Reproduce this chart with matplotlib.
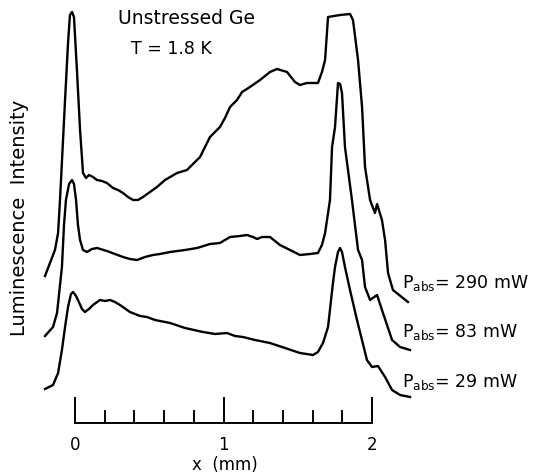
import matplotlib
matplotlib.use("Agg")
import matplotlib.pyplot as plt
from matplotlib.ticker import FixedLocator

# position along the sample (mm) and luminescence intensity (arb. units)
x_290 = [-0.202, -0.135, -0.114, -0.101, -0.067, -0.047, -0.034, -0.020, -0.007, 0.013,
         0.034, 0.054, 0.074, 0.094, 0.121, 0.148, 0.182, 0.215, 0.256, 0.290,
         0.323, 0.357, 0.391, 0.424, 0.458, 0.505, 0.552, 0.606, 0.687, 0.754,
         0.842, 0.909, 0.976, 1.010, 1.044, 1.091, 1.125, 1.178,
         1.246, 1.313, 1.360, 1.428, 1.481, 1.515, 1.562, 1.636, 1.663, 1.684,
         1.704, 1.785, 1.852, 1.872, 1.906, 1.933, 1.953, 1.987, 2.020, 2.034,
         2.067, 2.088, 2.108, 2.141, 2.242]
y_290 = [1.47, 1.73, 1.90, 2.23, 3.23, 3.80, 4.08, 4.11, 4.06, 3.53,
         2.93, 2.50, 2.45, 2.48, 2.46, 2.43, 2.42, 2.40, 2.35, 2.33,
         2.30, 2.26, 2.23, 2.23, 2.26, 2.31, 2.36, 2.43, 2.50, 2.53,
         2.66, 2.86, 2.96, 3.05, 3.16, 3.23, 3.31, 3.36,
         3.43, 3.51, 3.54, 3.51, 3.41, 3.38, 3.40, 3.40, 3.51, 3.63,
         4.06, 4.08, 4.09, 4.03, 3.63, 3.16, 2.56, 2.23, 2.10, 2.19,
         2.03, 1.83, 1.50, 1.33, 1.21]

x_83 = [-0.202, -0.148, -0.121, -0.088, -0.074, -0.061, -0.040, -0.020, -0.007, 0.007,
        0.020, 0.034, 0.054, 0.081, 0.114, 0.148, 0.215, 0.269, 0.323, 0.370,
        0.418, 0.471, 0.525, 0.572, 0.640, 0.741, 0.822, 0.909, 0.976, 1.044,
        1.111, 1.158, 1.199, 1.226, 1.259, 1.313, 1.380, 1.448, 1.515, 1.582,
        1.636, 1.663, 1.684, 1.717, 1.731, 1.751, 1.771, 1.785, 1.798, 1.818,
        1.865, 1.906, 1.933, 1.953, 1.987, 2.034, 2.074, 2.135, 2.189, 2.256]
y_83 = [0.87, 0.96, 1.10, 1.56, 1.98, 2.23, 2.39, 2.43, 2.39, 2.23,
        1.98, 1.83, 1.73, 1.71, 1.74, 1.75, 1.72, 1.69, 1.66, 1.64,
        1.63, 1.66, 1.68, 1.69, 1.71, 1.73, 1.75, 1.79, 1.80, 1.86,
        1.87, 1.88, 1.86, 1.84, 1.86, 1.86, 1.78, 1.73, 1.68, 1.69,
        1.70, 1.78, 1.90, 2.23, 2.76, 2.96, 3.40, 3.39, 3.30, 2.76,
        2.23, 1.73, 1.63, 1.36, 1.23, 1.28, 1.10, 0.83, 0.76, 0.73]

x_29 = [-0.202, -0.148, -0.114, -0.088, -0.067, -0.047, -0.027, -0.013, 0.007, 0.020,
        0.047, 0.067, 0.094, 0.121, 0.168, 0.202, 0.236, 0.269, 0.303, 0.370,
        0.438, 0.485, 0.539, 0.640, 0.741, 0.862, 0.943, 1.024, 1.077, 1.131,
        1.212, 1.313, 1.414, 1.515, 1.603, 1.636, 1.670, 1.704, 1.737, 1.751,
        1.771, 1.785, 1.798, 1.818, 1.852, 1.899, 1.966, 2.000, 2.040, 2.088,
        2.135, 2.189, 2.256]
y_29 = [0.34, 0.38, 0.50, 0.73, 0.96, 1.16, 1.29, 1.31, 1.27, 1.23,
        1.14, 1.11, 1.14, 1.18, 1.23, 1.22, 1.23, 1.21, 1.18, 1.11,
        1.07, 1.06, 1.03, 1.00, 0.95, 0.91, 0.89, 0.90, 0.87, 0.86,
        0.83, 0.80, 0.75, 0.70, 0.68, 0.71, 0.80, 0.96, 1.40, 1.56,
        1.71, 1.75, 1.71, 1.56, 1.33, 1.03, 0.63, 0.56, 0.57, 0.46,
        0.33, 0.28, 0.26]

labels = [r"P$_\mathregular{abs}$= 290 mW", r"P$_\mathregular{abs}$= 83 mW",
          r"P$_\mathregular{abs}$= 29 mW"]
label_y = [1.40, 0.91, 0.41]

major_ticks = [0, 1, 2]
minor_ticks = [0.2, 0.4, 0.6, 0.8, 1.2, 1.4, 1.6, 1.8]

fig = plt.figure(figsize=(5.36, 4.73), dpi=100)
ax = fig.add_axes([0, 0, 1, 1])

for xs, ys in [(x_290, y_290), (x_83, y_83), (x_29, y_29)]:
    ax.plot(xs, ys, color="black", lw=1.7, solid_joinstyle="round")

for lab, ly in zip(labels, label_y):
    ax.text(2.20, ly, lab, fontsize=12.5, va="center", ha="left")

ax.text(0.75, 4.05, "Unstressed Ge", fontsize=13.5, ha="center", va="center")
ax.text(0.65, 3.74, "T = 1.8 K", fontsize=12.5, ha="center", va="center")

ax.set_xlim(-75 / 148.5, 461 / 148.5)
ax.set_ylim(-0.5, 4.23)

# the scale bar at the bottom
for s in ["top", "right", "left"]:
    ax.spines[s].set_visible(False)
ax.spines["bottom"].set_position(("data", 0))
ax.spines["bottom"].set_bounds(0, 2)
ax.spines["bottom"].set_linewidth(1.4)
ax.xaxis.set_major_locator(FixedLocator(major_ticks))
ax.xaxis.set_minor_locator(FixedLocator(minor_ticks))
ax.set_xticklabels([str(t) for t in major_ticks])
ax.tick_params(axis="x", which="major", direction="in", length=18.7, width=1.4,
               pad=9, labelsize=12)
ax.tick_params(axis="x", which="minor", direction="in", length=9.4, width=1.4)
ax.set_yticks([])

ax.set_xlabel("x  (mm)", fontsize=12)
ax.xaxis.set_label_coords(225 / 536, 8 / 473)
ax.xaxis.label.set_va("center")
ax.set_ylabel("Luminescence  Intensity", fontsize=14)
ax.yaxis.set_label_coords(20 / 536, 255 / 473)
ax.yaxis.label.set_va("center")

fig.savefig("out.png", dpi=100, facecolor="white")
